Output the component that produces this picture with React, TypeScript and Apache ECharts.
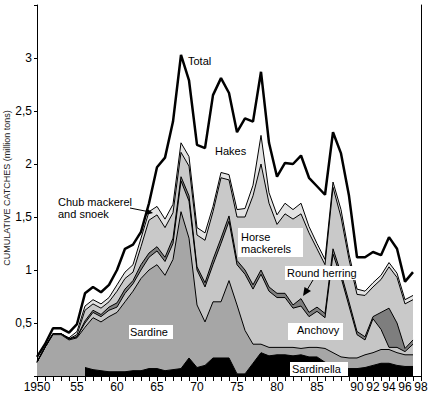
import React, { useEffect, useRef } from 'react';
import * as echarts from 'echarts';

// Categories (years) and axis labels
const years = [
  '1950','1951','1952','1953','1954','1955','1956','1957','1958','1959',
  '1960','1961','1962','1963','1964','1965','1966','1967','1968','1969',
  '1970','1971','1972','1973','1974','1975','1976','1977','1978','1979',
  '1980','1981','1982','1983','1984','1985','1986','1987','1988','1989',
  '1990','1991','1992','1993','1994','1995','1996','1997','1998',
];
const tickYears = ['1950','1955','1960','1965','1970','1975','1980','1985','1990','1992','1994','1996','1998'];
const tickLabels = ['1950','55','60','65','70','75','80','85','90','92','94','96','98'];
const yTitle = 'CUMULATIVE CATCHES (million tons)';

// Cumulative catches (million tons), read as the top edge of each stacked band, 1950-1997
const sardinellaTop = [
  null, null, null, null, null, null, 0.08, 0.06, 0.05, 0.04,
  0.04, 0.04, 0.05, 0.05, 0.07, 0.07, 0.05, 0.06, 0.07, 0.17,
  0.08, 0.10, 0.17, 0.17, 0.17, 0.02, 0.02, 0.12, 0.22, 0.19,
  0.20, 0.20, 0.19, 0.20, 0.18, 0.18, 0.13, 0.10, 0.07, 0.07,
  0.07, 0.08, 0.10, 0.12, 0.12, 0.10, 0.09, 0.09,
];
const sardineTop = [
  0.13, 0.27, 0.39, 0.39, 0.34, 0.36, 0.46, 0.55, 0.51, 0.56,
  0.60, 0.70, 0.80, 0.92, 1.00, 1.05, 0.95, 1.10, 1.55, 1.30,
  0.67, 0.51, 0.70, 0.70, 0.90, 0.67, 0.43, 0.30, 0.30, 0.27,
  0.27, 0.27, 0.27, 0.26, 0.27, 0.27, 0.26, 0.22, 0.18, 0.17,
  0.17, 0.20, 0.22, 0.25, 0.25, 0.22, 0.20, 0.20,
];
const anchovyTop = [
  0.13, 0.27, 0.40, 0.40, 0.35, 0.37, 0.50, 0.60, 0.56, 0.62,
  0.65, 0.78, 0.87, 1.00, 1.12, 1.18, 1.08, 1.25, 1.84, 1.65,
  1.00, 0.84, 1.05, 1.25, 1.46, 1.05, 0.96, 0.82, 0.96, 0.80,
  0.74, 0.74, 0.64, 0.66, 0.56, 0.61, 0.55, 1.15, 0.93, 0.66,
  0.39, 0.34, 0.54, 0.44, 0.27, 0.27, 0.23, 0.30,
];
const roundHerringTop = [
  0.13, 0.27, 0.40, 0.40, 0.35, 0.37, 0.52, 0.62, 0.58, 0.65,
  0.69, 0.82, 0.90, 1.05, 1.16, 1.22, 1.12, 1.30, 1.88, 1.70,
  1.03, 0.88, 1.10, 1.30, 1.51, 1.09, 1.00, 0.86, 1.00, 0.84,
  0.78, 0.78, 0.67, 0.73, 0.60, 0.65, 0.59, 1.20, 0.97, 0.70,
  0.42, 0.37, 0.56, 0.60, 0.64, 0.50, 0.26, 0.34,
];
const horseMackerelTop = [
  0.13, 0.27, 0.40, 0.40, 0.35, 0.39, 0.62, 0.68, 0.64, 0.70,
  0.80, 0.92, 0.98, 1.22, 1.47, 1.52, 1.40, 1.54, 2.11, 1.98,
  1.33, 1.28, 1.55, 1.87, 1.85, 1.50, 1.50, 1.70, 2.00, 1.63,
  1.43, 1.53, 1.48, 1.53, 1.35, 1.20, 1.05, 1.78, 1.50, 1.10,
  0.77, 0.76, 0.84, 0.91, 1.03, 0.93, 0.68, 0.72,
];
const chubSnoekTop = [
  0.14, 0.27, 0.40, 0.40, 0.36, 0.42, 0.66, 0.72, 0.68, 0.74,
  0.86, 0.98, 1.05, 1.30, 1.55, 1.60, 1.48, 1.62, 2.20, 2.07,
  1.40, 1.35, 1.60, 1.92, 1.90, 1.57, 1.58, 1.80, 2.27, 1.73,
  1.52, 1.63, 1.57, 1.63, 1.41, 1.25, 1.10, 1.83, 1.57, 1.15,
  0.82, 0.80, 0.88, 0.95, 1.07, 0.97, 0.72, 0.76,
];
const totalCatch = [
  0.18, 0.30, 0.45, 0.45, 0.41, 0.49, 0.78, 0.84, 0.79, 0.86,
  1.00, 1.20, 1.24, 1.36, 1.63, 1.97, 2.06, 2.40, 3.03, 2.79,
  2.18, 2.15, 2.65, 2.81, 2.67, 2.30, 2.43, 2.40, 2.87, 2.20,
  1.88, 2.01, 2.00, 2.08, 1.87, 1.79, 1.71, 2.30, 2.10, 1.70,
  1.12, 1.12, 1.17, 1.14, 1.31, 1.20, 0.89, 0.98,
];

const FONT = '"Liberation Sans", Arial, sans-serif';

export default function App() {
  const ref = useRef<HTMLDivElement>(null);

  useEffect(() => {
    const chart = echarts.init(ref.current!, null, { renderer: 'svg' });

    const band = (name: string, data: (number | null)[], color: string) => ({
      name,
      type: 'line',
      data,
      symbol: 'none',
      smooth: false,
      lineStyle: { color: '#000', width: 1 },
      areaStyle: { color, opacity: 1, origin: 'start' },
      emphasis: { disabled: true },
    });

    const labelText = (text: string, x: number, y: number) => ({
      type: 'text',
      x,
      y,
      z: 100,
      style: { text, fill: '#000', font: `11px ${FONT}`, verticalAlign: 'middle' },
    });
    const whiteBox = (x: number, y: number, w: number, h: number) => ({
      type: 'rect',
      z: 99,
      shape: { x, y, width: w, height: h },
      style: { fill: '#fff' },
    });

    chart.setOption({
      animation: false,
      backgroundColor: '#fff',
      grid: { left: 37, right: 11, top: 5, bottom: 18, containLabel: false, outerBoundsMode: 'none' },
      xAxis: {
        type: 'category',
        data: years,
        boundaryGap: false,
        axisLine: { show: true, lineStyle: { color: '#000', width: 1 } },
        axisTick: { show: true, interval: 0, length: 5, lineStyle: { color: '#000' } },
        axisLabel: {
          interval: 0,
          color: '#000',
          fontFamily: FONT,
          fontSize: 12,
          margin: 5,
          formatter: (v: string) => {
            const i = tickYears.indexOf(v);
            return i >= 0 ? tickLabels[i] : '';
          },
        },
        splitLine: { show: false },
      },
      yAxis: [
        {
          type: 'value',
          min: 0,
          max: 3.5,
          interval: 0.5,
          axisLine: { show: true, lineStyle: { color: '#000', width: 1 } },
          axisTick: { show: true, length: 3, lineStyle: { color: '#000' } },
          axisLabel: {
            color: '#000',
            fontFamily: FONT,
            fontSize: 12,
            margin: 5,
            formatter: (v: number) => (v === 0 || v === 3.5 ? '' : String(v).replace('.', ',')),
          },
          splitLine: { show: false },
        },
        {
          type: 'value',
          min: 0,
          max: 3.5,
          interval: 0.5,
          position: 'right',
          axisLine: { show: true, lineStyle: { color: '#000', width: 1 } },
          axisTick: { show: false },
          axisLabel: { show: false },
          splitLine: { show: false },
        },
      ],
      series: [
        band('Chub mackerel and snoek', chubSnoekTop, '#e3e3e3'),
        band('Horse mackerels', horseMackerelTop, '#c9c9c9'),
        band('Round herring', roundHerringTop, '#7e7e7e'),
        band('Anchovy', anchovyTop, '#c6c6c6'),
        band('Sardine', sardineTop, '#a6a6a6'),
        band('Sardinella', sardinellaTop, '#000000'),
        {
          name: 'Total',
          type: 'line',
          data: totalCatch,
          symbol: 'none',
          z: 5,
          lineStyle: { color: '#000', width: 2.5 },
          emphasis: { disabled: true },
        },
      ],
      graphic: [
        {
          type: 'text',
          x: 7,
          y: 188,
          rotation: Math.PI / 2,
          z: 100,
          style: {
            text: yTitle,
            fill: '#222',
            font: `9px ${FONT}`,
            align: 'center',
            verticalAlign: 'middle',
          },
        },
        labelText('Total', 188, 61),
        labelText('Hakes', 215, 151),
        labelText('Chub mackerel', 58, 202),
        labelText('and snoek', 58, 214),
        { type: 'line', z: 100, shape: { x1: 130, y1: 208, x2: 148, y2: 211.6 }, style: { stroke: '#000', lineWidth: 1 } },
        { type: 'polygon', z: 100, shape: { points: [[153, 213], [146.4, 214.7], [147.6, 208.9]] }, style: { fill: '#000' } },
        whiteBox(238, 228, 65, 29),
        labelText('Horse', 241, 237),
        labelText('mackerels', 241, 249),
        whiteBox(285, 266, 72, 14),
        labelText('Round herring', 287, 273),
        { type: 'line', z: 100, shape: { x1: 313, y1: 280, x2: 307, y2: 290 }, style: { stroke: '#000', lineWidth: 1 } },
        { type: 'polygon', z: 100, shape: { points: [[303, 296], [304.5, 287], [311, 291]] }, style: { fill: '#000' } },
        whiteBox(288, 323, 55, 17),
        labelText('Anchovy', 297, 330),
        whiteBox(129, 325, 44, 14),
        labelText('Sardine', 130, 332),
        whiteBox(290, 362, 58, 14),
        labelText('Sardinella', 292, 369),
      ],
    });

    return () => chart.dispose();
  }, []);

  return (
    <div
      ref={ref}
      style={{ position: 'fixed', left: 0, top: 0, width: 432, height: 394 }}
    />
  );
}
